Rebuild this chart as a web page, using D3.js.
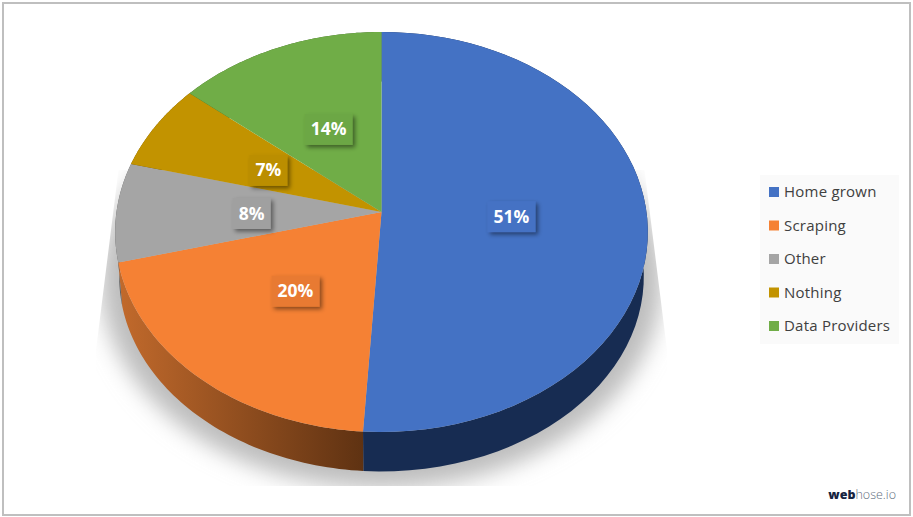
<!DOCTYPE html>
<html><head><meta charset="utf-8">
<script src="https://cdn.jsdelivr.net/npm/d3@7"></script>
<style>html,body{margin:0;padding:0;background:#fff;overflow:hidden}svg{display:block}text{font-family:"Open Sans","Noto Sans",sans-serif}</style>
</head><body><svg id="c" width="913" height="517"></svg>
<script>
const categories = ["Home grown","Scraping","Other","Nothing","Data Providers"];
const values = [51,20,8,7,14];
const colors = ["#4472c4","#f58134","#a5a5a5","#c29300","#70ad47"];
const sideColors = ["#172c52","#6a3714","#5c5c5c","#6b5200","#3d6027"];
const labelBoxes = ["#4472c4","#e87a30","#a0a0a0","#bb8e00","#6ca744"];

const svg = d3.select("#c");
const defs = svg.append("defs");
svg.append("rect").attr("x",3).attr("y",3).attr("width",907).attr("height",512)
  .attr("fill","#fff").attr("stroke","#bfbfbf").attr("stroke-width",2);

// perspective projection of the pie disc
const K = 0.1;
const sxTop = d3.scaleLinear().domain([-1,1]).range([381.5-265,381.5+265]);
const syTop = d3.scaleLinear().domain([-1,1]).range([212-198,212+198]);
const sxBot = d3.scaleLinear().domain([-1,1]).range([381.5-261,381.5+261]);
const syBot = d3.scaleLinear().domain([-1,1]).range([257-193,257+193]);
const proj = (a,r,sx,sy)=>{
  const x=r*Math.sin(a), y=-r*Math.cos(a), w=1-K*y;
  return [sx(x/w), sy(y/w)];
};
const topPt = (a,r=1)=>proj(a,r,sxTop,syTop);
const botPt = (a,r=1)=>proj(a,r,sxBot,syBot);
const line = d3.line();
const arcs = d3.pie().sort(null)(values);
const samples = d=>d3.range(0,61).map(i=>d.startAngle+(d.endAngle-d.startAngle)*i/60);

// shadow
defs.append("filter").attr("id","blur").attr("x","-20%").attr("y","-20%").attr("width","140%").attr("height","140%")
  .append("feGaussianBlur").attr("stdDeviation",11);
defs.append("clipPath").attr("id","shadowClip").append("path")
  .attr("d",line([[sxTop(1)-2,170],[667,350],[667,486],[96,486],[96,350],[sxTop(-1)+2,170]])+"Z");
svg.append("g").attr("clip-path","url(#shadowClip)")
  .append("path")
  .attr("d",line(d3.range(0,121).map(i=>botPt(i/120*2*Math.PI,1.07)))+"Z")
  .attr("fill","#bdbdbd").attr("filter","url(#blur)");

// side wall
const g0 = defs.append("linearGradient").attr("id","sideOrange").attr("gradientUnits","userSpaceOnUse")
  .attr("x1",118).attr("x2",363).attr("y1",0).attr("y2",0);
g0.append("stop").attr("offset",0).attr("stop-color","#c26a2c");
g0.append("stop").attr("offset",1).attr("stop-color","#5f3212");
arcs.forEach((d,i)=>{
  const as = samples(d);
  svg.append("path").attr("d",line(as.map(a=>topPt(a)).concat(as.slice().reverse().map(a=>botPt(a))))+"Z")
    .attr("fill",i===1?"url(#sideOrange)":sideColors[i]);
});
// top face
arcs.forEach((d,i)=>{
  svg.append("path").attr("d",line([topPt(0,0)].concat(samples(d).map(a=>topPt(a))))+"Z")
    .attr("fill",colors[i]);
});

// data labels
defs.append("filter").attr("id","ds").attr("x","-30%").attr("y","-30%").attr("width","170%").attr("height","170%")
  .append("feDropShadow").attr("dx",2.5).attr("dy",2.5).attr("stdDeviation",2).attr("flood-color","#000").attr("flood-opacity",0.45);
arcs.forEach((d,i)=>{
  const p = topPt((d.startAngle+d.endAngle)/2,0.49);
  const cx=p[0], cy=p[1]+1.5;
  const txt=values[i]+"%";
  const w = txt.length===3?48:38;
  svg.append("rect").attr("x",cx-w/2).attr("y",cy-15.5).attr("width",w).attr("height",31)
    .attr("fill",labelBoxes[i]).attr("filter","url(#ds)");
  svg.append("text").attr("x",cx).attr("y",cy+6).attr("text-anchor","middle")
    .attr("font-size",17.5).attr("font-weight",700).attr("fill","#fff").text(txt);
});

// legend
svg.append("rect").attr("x",760).attr("y",175).attr("width",139).attr("height",169).attr("fill","#fafafa");
const ly = d3.scalePoint().domain(categories).range([192,326]);
categories.forEach((c,i)=>{
  svg.append("rect").attr("x",769).attr("y",ly(c)-5).attr("width",10).attr("height",10).attr("fill",colors[i]);
  svg.append("text").attr("x",784).attr("y",ly(c)+5).attr("font-size",15).attr("letter-spacing",0.22).attr("fill","#404040").text(c);
});

// logo
const logo = svg.append("text").attr("x",896).attr("y",499).attr("text-anchor","end").attr("font-size",12.5);
logo.append("tspan").attr("font-weight",800).attr("fill","#16233f").text("web");
logo.append("tspan").attr("font-weight",300).attr("fill","#5f6f80").text("hose.io");
</script></body></html>
